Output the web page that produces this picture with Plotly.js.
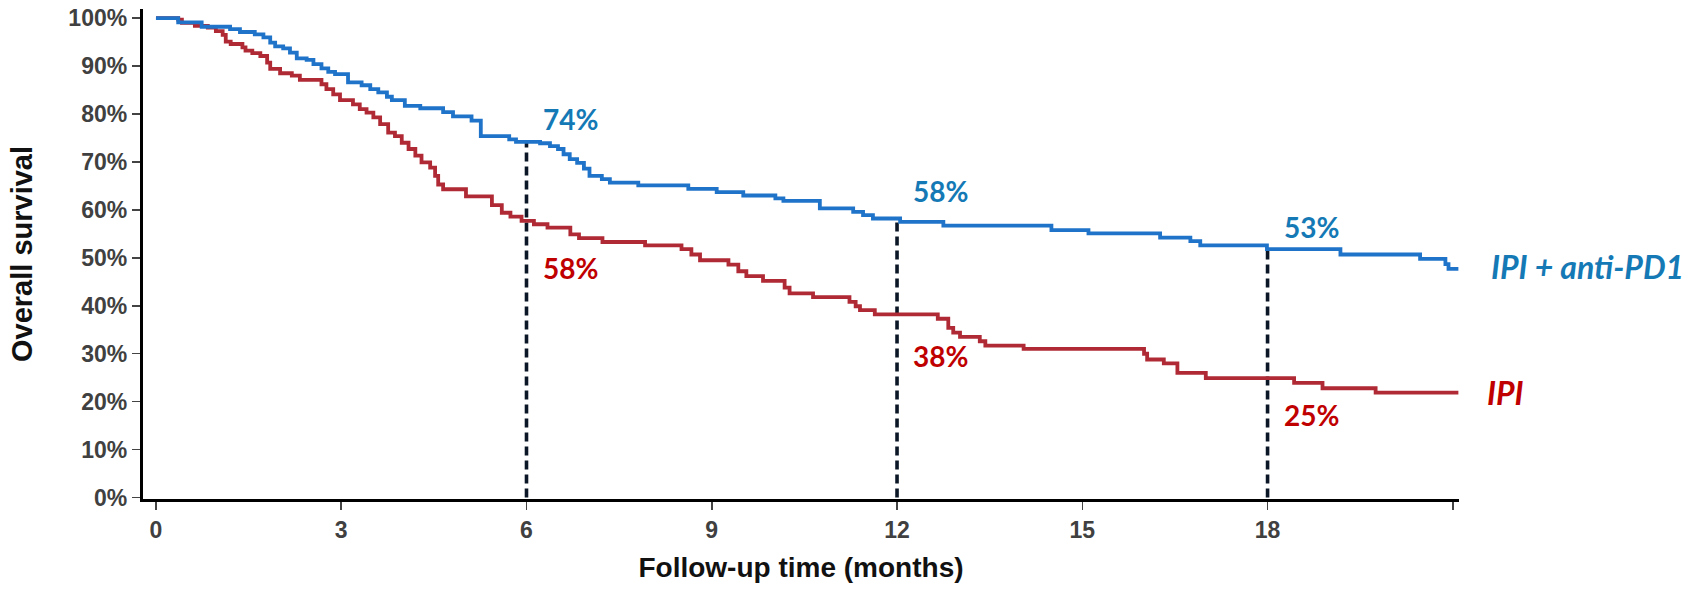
<!DOCTYPE html>
<html>
<head>
<meta charset="utf-8">
<script src="https://cdn.plot.ly/plotly-3.0.1.min.js"></script>
<style>
  html, body { margin: 0; padding: 0; background: #ffffff; }
  #chart { width: 1687px; height: 589px; }
</style>
</head>
<body>
<div id="chart"></div>
<script>
// ---- Data (Kaplan-Meier step curves) ----
const seriesNames = ['IPI + anti-PD1', 'IPI'];

const comboMonths = [0,0.36,0.74,1.20,1.36,1.60,1.74,1.85,1.93,2.06,2.17,2.28,2.44,2.55,2.68,2.79,2.90,3.11,3.33,3.47,3.60,3.74,3.82,4.03,4.28,4.65,4.81,5.11,5.26,5.72,5.83,6.22,6.38,6.51,6.60,6.70,6.82,6.93,7.02,7.22,7.35,7.81,8.62,9.08,9.51,10.03,10.16,10.75,11.29,11.45,11.61,12.05,12.75,14.50,15.10,16.26,16.75,16.91,17.99,19.18,20.47,20.88,20.93,21.09];
const comboSurv   = [100,99.1,98.2,97.7,97.1,96.6,96.0,94.9,94.1,93.7,92.8,91.6,91.3,90.4,89.5,88.8,88.3,86.6,86.0,85.2,84.5,83.6,82.9,81.7,81.2,80.4,79.5,78.6,75.4,74.7,74.2,73.9,73.3,72.7,71.6,70.6,69.8,68.6,67.1,66.4,65.7,65.1,64.4,63.7,63.0,62.4,61.9,60.3,59.6,58.9,58.2,57.5,56.7,55.8,55.1,54.2,53.5,52.6,51.8,50.7,49.8,48.7,47.7,47.7];

const ipiMonths = [0,0.36,0.42,0.63,0.84,0.97,1.08,1.13,1.21,1.40,1.45,1.56,1.69,1.80,1.85,2.01,2.20,2.33,2.68,2.76,2.87,2.98,3.19,3.30,3.41,3.52,3.63,3.76,3.87,3.98,4.09,4.20,4.30,4.44,4.52,4.57,4.65,5.02,5.44,5.60,5.74,5.92,6.12,6.34,6.71,6.85,7.23,7.92,8.51,8.67,8.81,9.27,9.43,9.56,9.83,10.18,10.26,10.64,11.23,11.33,11.40,11.64,12.66,12.83,12.91,13.02,13.34,13.43,14.05,16.00,16.05,16.32,16.54,17.00,18.43,18.89,19.75,21.09];
const ipiSurv   = [100,99.7,99.0,98.4,98.0,97.3,96.5,95.1,94.6,93.9,93.2,92.7,92.1,90.7,89.4,88.5,88.0,87.1,86.2,85.2,84.1,82.9,82.0,81.0,80.3,79.3,77.9,76.1,75.4,74.0,72.7,71.3,69.9,68.8,67.1,65.3,64.3,62.8,61.0,59.4,58.6,57.7,57.0,56.3,54.9,54.1,53.3,52.6,51.8,50.7,49.5,48.6,47.2,46.2,45.2,43.8,42.6,41.8,40.8,39.9,39.1,38.2,37.3,35.4,34.4,33.5,32.6,31.7,31.0,30.0,28.8,28.0,26.0,24.9,23.9,22.8,21.9,21.9];

const milestoneMonths = [6, 12, 18];
const comboLabels = ['74%', '58%', '53%'];
const ipiLabels   = ['58%', '38%', '25%'];

const xTickVals = [0, 3, 6, 9, 12, 15, 18, 21];
const xTickText = ['0', '3', '6', '9', '12', '15', '18', ''];
const yTickVals = [0, 10, 20, 30, 40, 50, 60, 70, 80, 90, 100];
const yTickText = ['0%', '10%', '20%', '30%', '40%', '50%', '60%', '70%', '80%', '90%', '100%'];

// ---- Styling ----
const BLUE_LINE = '#1f73c9';
const RED_LINE = '#b02a35';
const BLUE_TEXT = '#1479b5';
const RED_TEXT = '#c00000';
const DASH_COLOR = '#0b1626';

function survAt(months, surv, t) {
  let v = surv[0];
  for (let i = 0; i < months.length; i++) { if (months[i] <= t) v = surv[i]; }
  return v;
}

const traces = [];
milestoneMonths.forEach(function (m) {
  traces.push({
    x: [m, m], y: [0, survAt(comboMonths, comboSurv, m)],
    type: 'scatter', mode: 'lines', hoverinfo: 'skip', showlegend: false,
    line: { color: DASH_COLOR, width: 3.6, dash: '9px,5px' }
  });
});
traces.push({
  x: ipiMonths, y: ipiSurv, name: seriesNames[1], type: 'scatter', mode: 'lines',
  line: { color: RED_LINE, width: 3.8, shape: 'hv' }, showlegend: false
});
traces.push({
  x: comboMonths, y: comboSurv, name: seriesNames[0], type: 'scatter', mode: 'lines',
  line: { color: BLUE_LINE, width: 3.8, shape: 'hv' }, showlegend: false
});

const labelFont = function (color, italic, size) {
  return { family: 'Lato, "Open Sans", sans-serif', size: size, color: color, weight: 'bold', style: italic ? 'italic' : 'normal' };
};

const comboOffsets = [4.7, 5.7, 4.7];
const ipiOffsets = [-9.9, -8.6, -7.6];
const labelDx = 0.71;

const annotations = [];
milestoneMonths.forEach(function (m, i) {
  annotations.push({
    x: m + labelDx, y: survAt(comboMonths, comboSurv, m) + comboOffsets[i], xref: 'x', yref: 'y',
    text: comboLabels[i], showarrow: false, xanchor: 'center', yanchor: 'middle', font: labelFont(BLUE_TEXT, false, 28)
  });
  annotations.push({
    x: m + labelDx, y: survAt(ipiMonths, ipiSurv, m) + ipiOffsets[i], xref: 'x', yref: 'y',
    text: ipiLabels[i], showarrow: false, xanchor: 'center', yanchor: 'middle', font: labelFont(RED_TEXT, false, 28)
  });
});
annotations.push({
  x: 1.023, xref: 'paper', y: comboSurv[comboSurv.length - 1] + 0.4, yref: 'y',
  text: seriesNames[0], showarrow: false, xanchor: 'left', yanchor: 'middle', font: labelFont(BLUE_TEXT, true, 32)
});
annotations.push({
  x: 1.020, xref: 'paper', y: ipiSurv[ipiSurv.length - 1], yref: 'y',
  text: seriesNames[1], showarrow: false, xanchor: 'left', yanchor: 'middle', font: labelFont(RED_TEXT, true, 32)
});

const tickFont = { family: '"Liberation Sans", Arial, sans-serif', size: 23, color: '#404040', weight: 'bold' };
const titleFont = { family: '"Liberation Sans", Arial, sans-serif', size: 28, color: '#111111', weight: 'bold' };

const layout = {
  width: 1687, height: 589,
  margin: { l: 143, r: 228, t: 9, b: 90 },
  paper_bgcolor: '#ffffff', plot_bgcolor: '#ffffff',
  showlegend: false,
  xaxis: {
    range: [-0.21, 21.1], tickmode: 'array', tickvals: xTickVals, ticktext: xTickText,
    showgrid: false, zeroline: false, showline: true, linecolor: '#000000', linewidth: 3.2,
    ticks: 'outside', ticklen: 8, tickwidth: 1.5, tickcolor: '#444444',
    tickfont: tickFont, automargin: false,
    title: { text: 'Follow-up time (months)', font: titleFont, standoff: 16 }
  },
  yaxis: {
    range: [-0.3, 101.9], tickmode: 'array', tickvals: yTickVals, ticktext: yTickText,
    showgrid: false, zeroline: false, showline: true, linecolor: '#000000', linewidth: 3.2,
    ticks: 'outside', ticklen: 8, tickwidth: 1.5, tickcolor: '#444444',
    tickfont: tickFont, automargin: false,
    title: { text: 'Overall survival', font: Object.assign({}, titleFont, { size: 29 }), standoff: 28 }
  },
  annotations: annotations
};

Plotly.newPlot('chart', traces, layout, { staticPlot: true, displayModeBar: false });
</script>
</body>
</html>
